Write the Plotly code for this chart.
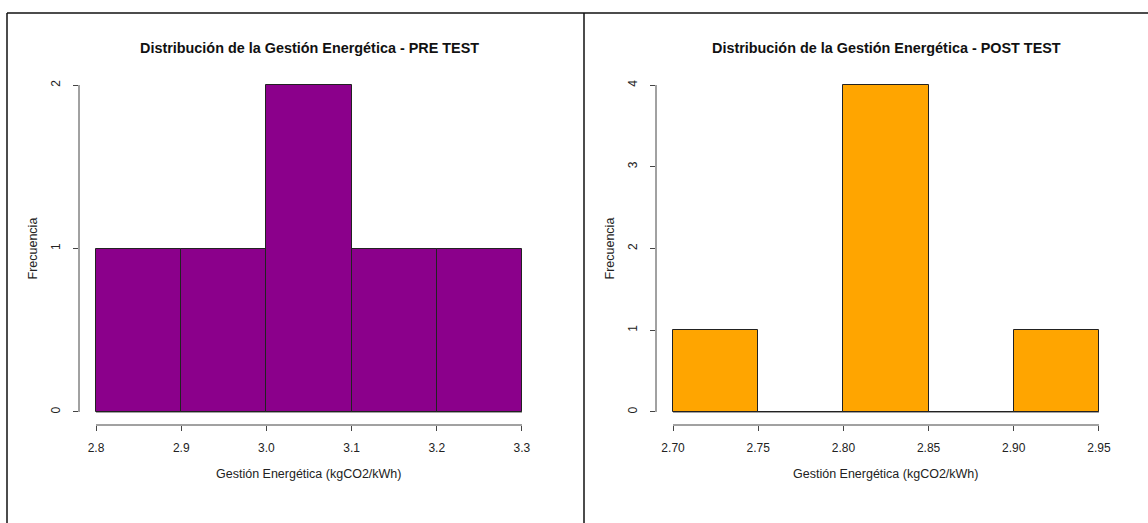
import plotly.graph_objects as go

# ---- data ----
pre_edges = [2.8, 2.9, 3.0, 3.1, 3.2, 3.3]
pre_counts = [1, 1, 2, 1, 1]
pre_xticks = [2.8, 2.9, 3.0, 3.1, 3.2, 3.3]
pre_xticklabels = ["2.8", "2.9", "3.0", "3.1", "3.2", "3.3"]
pre_yticks = [0, 1, 2]

post_edges = [2.70, 2.75, 2.80, 2.85, 2.90, 2.95]
post_counts = [1, 0, 4, 0, 1]
post_xticks = [2.70, 2.75, 2.80, 2.85, 2.90, 2.95]
post_xticklabels = ["2.70", "2.75", "2.80", "2.85", "2.90", "2.95"]
post_yticks = [0, 1, 2, 3, 4]

title_pre = "Distribución de la Gestión Energética - PRE TEST"
title_post = "Distribución de la Gestión Energética - POST TEST"
xlabel = "Gestión Energética (kgCO2/kWh)"
ylabel = "Frecuencia"

W, H = 1148, 523
FONT = "Liberation Sans, Arial, sans-serif"
AXC = "#444444"
TXT = "#222222"


def px_x(p):
    return p / W


def px_y(p):
    return (H - p) / H


def centers(edges):
    return [(a + b) / 2 for a, b in zip(edges[:-1], edges[1:])]


def widths(edges):
    return [b - a for a, b in zip(edges[:-1], edges[1:])]


def ext(lo, hi):
    d = (hi - lo) * 0.04
    return [lo - d, hi + d]


fig = go.Figure()

panels = [
    dict(x0=79, x1=539, edges=pre_edges, counts=pre_counts, color="#8B008B",
         xt=pre_xticks, xtl=pre_xticklabels, yt=pre_yticks, title=title_pre,
         xa="x", ya="y"),
    dict(x0=656, x1=1116, edges=post_edges, counts=post_counts, color="#FFA500",
         xt=post_xticks, xtl=post_xticklabels, yt=post_yticks, title=title_post,
         xa="x2", ya="y2"),
]
ytop, ybot = 72, 425

shapes = []
annotations = []
for i, p in enumerate(panels):
    sfx = "" if i == 0 else "2"
    fig.add_trace(go.Bar(
        x=centers(p["edges"]), y=p["counts"], width=widths(p["edges"]),
        marker=dict(color=p["color"], line=dict(color="#222222", width=1)),
        xaxis=p["xa"], yaxis=p["ya"], showlegend=False, hoverinfo="x+y",
    ))
    # baseline for empty bins (R draws zero-height bars as a line)
    fig.add_trace(go.Scatter(
        x=[p["edges"][0], p["edges"][-1]], y=[0, 0], mode="lines",
        line=dict(color="#222222", width=1), xaxis=p["xa"], yaxis=p["ya"],
        showlegend=False, hoverinfo="skip",
    ))
    xr = ext(p["edges"][0], p["edges"][-1])
    yr = ext(0, max(p["yt"]))
    fig.layout["xaxis" + sfx] = dict(
        domain=[px_x(p["x0"]), px_x(p["x1"])], range=xr, anchor=p["ya"],
        tickvals=p["xt"], ticktext=p["xtl"], ticks="outside", ticklen=5,
        tickcolor=AXC, tickwidth=1, showgrid=False, zeroline=False,
        showline=False, tickfont=dict(size=12, color=TXT, family=FONT),
        ticklabelstandoff=7, fixedrange=True,
    )
    fig.layout["yaxis" + sfx] = dict(
        domain=[px_y(ybot), px_y(ytop)], range=yr, anchor=p["xa"],
        tickvals=p["yt"], ticktext=[str(v) for v in p["yt"]], ticks="outside",
        ticklen=5, tickcolor=AXC, tickwidth=1, showgrid=False, zeroline=False,
        showline=False, tickangle=-90,
        tickfont=dict(size=12, color=TXT, family=FONT),
        ticklabelstandoff=8, fixedrange=True,
    )
    # R style axis lines (from first to last tick)
    shapes.append(dict(type="line", xref=p["xa"], yref=p["ya"] + " domain",
                       x0=p["xt"][0], x1=p["xt"][-1], y0=0, y1=0,
                       line=dict(color=AXC, width=1)))
    shapes.append(dict(type="line", xref=p["xa"] + " domain", yref=p["ya"],
                       x0=0, x1=0, y0=p["yt"][0], y1=p["yt"][-1],
                       line=dict(color=AXC, width=1)))
    cx = px_x((p["x0"] + p["x1"]) / 2)
    annotations.append(dict(text="<b>" + p["title"] + "</b>", xref="paper",
                            yref="paper", x=cx, y=px_y(48), showarrow=False,
                            xanchor="center", yanchor="middle",
                            font=dict(size=14.4, color="#111111", family=FONT)))
    annotations.append(dict(text=xlabel, xref="paper", yref="paper", x=cx,
                            y=px_y(474), showarrow=False, xanchor="center",
                            yanchor="middle",
                            font=dict(size=12.5, color=TXT, family=FONT)))
    annotations.append(dict(text=ylabel, xref="paper", yref="paper",
                            x=px_x(p["x0"] - 47), y=px_y((ytop + ybot) / 2),
                            showarrow=False, textangle=-90, xanchor="center",
                            yanchor="middle",
                            font=dict(size=12.5, color=TXT, family=FONT)))

# outer frame lines
frame = dict(color="#111111", width=1.5)
shapes.append(dict(type="line", xref="paper", yref="paper",
                   x0=px_x(7), x1=1, y0=px_y(13), y1=px_y(13), line=frame))
shapes.append(dict(type="line", xref="paper", yref="paper",
                   x0=px_x(7), x1=px_x(7), y0=0, y1=px_y(13), line=frame))
shapes.append(dict(type="line", xref="paper", yref="paper",
                   x0=px_x(584), x1=px_x(584), y0=0, y1=px_y(13), line=frame))

fig.update_layout(
    width=W, height=H, margin=dict(l=0, r=0, t=0, b=0),
    paper_bgcolor="white", plot_bgcolor="white", bargap=0,
    shapes=shapes, annotations=annotations,
    font=dict(family=FONT, color=TXT),
)

fig.write_html(
    "out.html",
    config={"displayModeBar": False},
    post_script="document.body.style.margin='0';document.body.style.overflow='hidden';",
)
